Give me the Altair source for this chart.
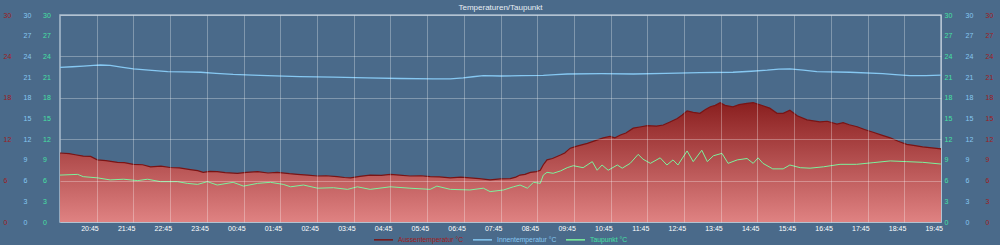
import altair as alt
import pandas as pd

# ---------------- data ----------------
aussen_time = ["19:45","20:00","20:10","20:23","20:35","20:46","21:00","21:19","21:30","21:45",
               "22:00","22:13","22:30","22:45","23:00","23:18","23:30","23:39","23:50","00:02",
               "00:15","00:35","00:50","01:08","01:25","01:40","02:00","02:13","02:30","02:46",
               "03:00","03:18","03:30","03:40","03:55","04:12","04:30","04:45","05:00","05:17",
               "05:35","05:50","06:05","06:23","06:40","06:55","07:10","07:28","07:45","08:01",
               "08:10","08:17","08:25","08:34","08:44","08:50","08:55","09:01","09:10","09:23",
               "09:30","09:39","09:50","10:07","10:20","10:33","10:44","10:52","11:01","11:10",
               "11:22","11:35","11:45","12:00","12:11","12:22","12:34","12:42","12:50","13:00",
               "13:11","13:20","13:28","13:36","13:44","13:52","14:05","14:15","14:28","14:38",
               "14:49","15:05","15:17","15:27","15:38","15:50","16:06","16:27","16:39","16:55",
               "17:05","17:15","17:28","17:40","17:54","18:08","18:22","18:35","18:49","19:00",
               "19:15","19:30","19:45"]
aussen_val = [10.0,9.9,9.75,9.56,9.5,9.0,8.9,8.65,8.6,8.36,
              8.3,8.0,8.1,7.9,7.85,7.6,7.45,7.2,7.35,7.3,
              7.15,7.06,7.2,7.3,7.1,7.2,7.0,6.9,6.8,6.67,
              6.7,6.57,6.45,6.4,6.6,6.8,6.75,6.9,6.8,6.67,
              6.7,6.57,6.55,6.4,6.5,6.4,6.3,6.1,6.25,6.3,
              6.5,6.8,6.9,7.2,7.3,7.5,8.3,9.0,9.2,9.7,
              10.0,10.7,11.0,11.4,11.8,12.2,12.4,12.2,12.6,12.9,
              13.6,13.8,13.96,13.9,14.06,14.5,15.0,15.5,16.1,15.9,
              15.75,16.3,16.7,16.9,17.3,16.9,16.7,17.0,17.2,17.3,
              17.0,16.5,15.75,15.75,16.2,15.4,14.8,14.5,14.6,14.2,
              14.4,14.1,13.8,13.4,13.0,12.6,12.2,11.7,11.26,11.1,
              10.9,10.75,10.6]

innen_time = ["19:45","20:05","20:23","20:40","20:51","21:07","21:25","21:45","22:10","22:41",
              "23:05","23:35","00:00","00:28","01:00","01:24","02:17","03:12","04:07","05:01",
              "05:55","06:23","06:44","07:00","07:17","07:45","08:20","08:55","09:15","09:34",
              "10:30","11:22","12:15","13:11","14:05","14:35","15:01","15:20","15:38","16:00",
              "16:22","17:16","18:10","18:30","18:54","19:20","19:45"]
innen_val = [22.4,22.5,22.6,22.7,22.75,22.7,22.45,22.2,22.0,21.8,
             21.75,21.7,21.55,21.4,21.3,21.2,21.06,21.0,20.9,20.8,
             20.75,20.75,20.9,21.05,21.2,21.16,21.2,21.25,21.35,21.45,
             21.5,21.45,21.55,21.65,21.7,21.85,22.0,22.15,22.2,22.0,
             21.8,21.7,21.5,21.35,21.2,21.2,21.3]

tau_time = ["19:45","20:14","20:23","20:46","21:07","21:29","21:52","22:08","22:29","22:57",
            "23:13","23:30","23:46","00:02","00:28","00:45","01:08","01:29","01:50","02:02",
            "02:23","02:46","03:12","03:35","03:51","04:12","04:45","05:17","05:50","06:01",
            "06:23","06:55","07:17","07:28","07:50","08:06","08:17","08:29","08:39","08:50",
            "08:55","09:01","09:11","09:23","09:34","09:44","10:00","10:15","10:23","10:31",
            "10:41","10:56","11:04","11:17","11:30","11:38","11:50","12:06","12:17","12:27",
            "12:35","12:50","13:00","13:14","13:23","13:33","13:47","13:57","14:12","14:28",
            "14:38","14:46","14:54","15:10","15:27","15:38","15:55","16:11","16:33","17:00",
            "17:27","17:54","18:22","18:49","19:15","19:45"]
tau_val = [6.8,6.9,6.57,6.4,6.1,6.2,6.0,6.2,5.85,5.85,
           5.6,5.45,5.85,5.36,5.75,5.2,5.6,5.75,5.45,5.1,
           5.36,4.9,4.97,4.73,5.1,4.73,5.1,4.9,4.73,5.2,
           4.73,4.64,4.9,4.4,4.64,5.1,5.36,4.9,5.75,5.6,
           6.8,7.2,7.06,7.4,7.87,8.16,7.87,8.75,7.5,8.26,
           7.5,8.26,7.8,8.5,9.8,9.1,8.5,9.3,8.26,9.0,
           8.26,10.3,8.75,10.4,8.75,9.6,9.95,8.5,9.0,9.2,
           8.5,9.3,8.5,7.7,7.7,8.26,7.87,7.8,8.0,8.36,
           8.36,8.6,8.85,8.75,8.65,8.4]

y_ticks = [0, 3, 6, 9, 12, 15, 18, 21, 24, 27, 30]
x_tick_hours = [20, 21, 22, 23, 0, 1, 2, 3, 4, 5, 6, 7, 8, 9, 10, 11, 12, 13, 14, 15, 16, 17, 18, 19]

S_AUSSEN = "Aussentemperatur °C"
S_INNEN = "Innentemperatur °C"
S_TAU = "Taupunkt °C"

RED_LINE = "#7a1414"
RED_TXT = "#a01c1c"
BLUE = "#86c8f2"
GREEN = "#7cf29c"
GREEN_TXT = "#45e0a2"
BG = "#4a6a8a"
FONT = "Liberation Sans"


def to_frame(times, vals, series):
    day = 1
    prev = None
    stamps = []
    for t in times:
        h, m = map(int, t.split(":"))
        mins = h * 60 + m
        if prev is not None and mins < prev:
            day += 1
        prev = mins
        stamps.append(pd.Timestamp(2024, 5, day, h, m))
    return pd.DataFrame({"t": stamps, "v": vals, "series": series})


df_a = to_frame(aussen_time, aussen_val, S_AUSSEN)
df_i = to_frame(innen_time, innen_val, S_INNEN)
df_t = to_frame(tau_time, tau_val, S_TAU)

x_values = []
for h in x_tick_hours:
    d = 1 if h >= 20 else 2
    x_values.append(alt.DateTime(year=2024, month=5, date=d, hours=h, minutes=45))

x_enc = alt.X(
    "t:T",
    scale=alt.Scale(domain=[alt.DateTime(year=2024, month=5, date=1, hours=19, minutes=45),
                            alt.DateTime(year=2024, month=5, date=2, hours=19, minutes=45)]),
    axis=alt.Axis(values=x_values, format="%H:%M", title=None, grid=True,
                  gridColor="#ffffff", gridOpacity=0.3, gridWidth=1, ticks=False,
                  domain=False, labelColor="#ffffff", labelFontSize=7, labelFont=FONT,
                  labelAlign="right", labelOffset=1.5, labelPadding=2, zindex=1),
)


def y_axis(orient, pad, color, grid=False):
    return alt.Axis(orient=orient, values=y_ticks, title=None, ticks=False, tickSize=0,
                    domain=False, labelAlign="left", labelPadding=pad, labelColor=color,
                    labelFontSize=7, labelFont=FONT, labelBaseline="middle",
                    grid=grid, gridColor="#ffffff", gridOpacity=0.3, gridWidth=1, zindex=1)


yscale = alt.Scale(domain=[0, 30], nice=False, zero=True)

stroke_scale = alt.Scale(domain=[S_AUSSEN, S_INNEN, S_TAU], range=[RED_LINE, BLUE, GREEN])
legend = alt.Legend(
    orient="none", legendX=313, legendY=214, direction="horizontal", title=None,
    symbolType="stroke", symbolSize=361, symbolStrokeWidth=1.5, labelFontSize=6.8,
    labelFont=FONT, labelOffset=4, columnPadding=6, padding=0,
    labelColor=alt.ExprRef(
        f"datum.label == '{S_AUSSEN}' ? '{RED_TXT}' : datum.label == '{S_INNEN}' ? '{BLUE}' : '{GREEN_TXT}'"
    ),
)

area = alt.Chart(df_a).mark_area(
    fill=alt.Gradient(gradient="linear", x1=0, x2=0, y1=0, y2=1,
                      stops=[alt.GradientStop(color="#8a1f1f", offset=0),
                             alt.GradientStop(color="#df8282", offset=1)]),
    interpolate="linear",
).encode(x=x_enc, y=alt.Y("v:Q", scale=yscale, axis=y_axis("left", 57, RED_TXT, grid=True)))

aussen_line = alt.Chart(df_a).mark_line(strokeWidth=1.2).encode(
    x=x_enc, y=alt.Y("v:Q", scale=yscale),
    stroke=alt.Stroke("series:N", scale=stroke_scale, legend=legend),
)
innen_line = alt.Chart(df_i).mark_line(strokeWidth=1.3).encode(
    x=x_enc, y=alt.Y("v:Q", scale=yscale),
    stroke=alt.Stroke("series:N", scale=stroke_scale, legend=legend),
)
tau_line = alt.Chart(df_t).mark_line(strokeWidth=1.0).encode(
    x=x_enc, y=alt.Y("v:Q", scale=yscale),
    stroke=alt.Stroke("series:N", scale=stroke_scale, legend=legend),
)

data_layer = alt.layer(area, aussen_line, innen_line, tau_line)

def ghost(df, orient, pad, color):
    return alt.Chart(df).mark_line(opacity=0).encode(
        x=x_enc, y=alt.Y("v:Q", scale=yscale, axis=y_axis(orient, pad, color)))

chart = alt.layer(
    data_layer,
    ghost(df_i, "left", 37, BLUE),
    ghost(df_t, "left", 17.5, GREEN_TXT),
    ghost(df_t, "right", 3, GREEN_TXT),
    ghost(df_i, "right", 24, BLUE),
    ghost(df_a, "right", 44, RED_TXT),
).resolve_scale(y="independent").properties(
    width=881, height=207,
    autosize=alt.AutoSizeParams(type="none"),
    padding={"left": 60, "right": 59, "top": 15, "bottom": 23},
    background=BG,
    title=alt.TitleParams("Temperaturen/Taupunkt", fontSize=8, color="#e8eef4", font=FONT,
                          fontWeight="normal", offset=4, dy=5, anchor="middle"),
).configure_view(stroke="#aabdce", strokeWidth=1.5)

chart.save("out.html", embed_options={"renderer": "svg", "actions": False})
